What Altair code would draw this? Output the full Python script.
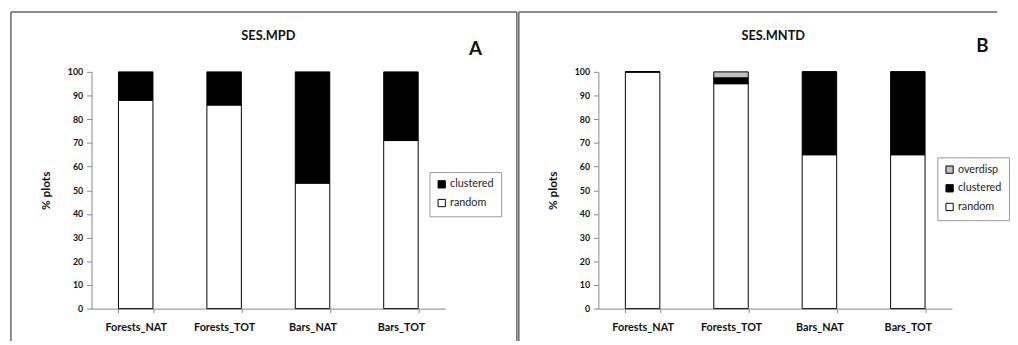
import altair as alt
import pandas as pd

categories = ["Forests_NAT", "Forests_TOT", "Bars_NAT", "Bars_TOT"]

# Panel A: SES.MPD
mpd_random = [88, 86, 53, 71]
mpd_clustered = [12, 14, 47, 29]

# Panel B: SES.MNTD
mntd_random = [100, 95, 65, 65]
mntd_clustered = [0, 2.5, 35, 35]
mntd_overdisp = [0, 2.5, 0, 0]

y_ticks = list(range(0, 101, 10))

FONT = "Lato"


def long_df(series):
    rows = []
    for order, (name, vals) in enumerate(series):
        for c, v in zip(categories, vals):
            rows.append({"cat": c, "status": name, "value": v, "ord": order})
    return pd.DataFrame(rows)


def panel(df, domain, rng, title, letter, legend_x, legend_y, frame,
          title_x, letter_x, letter_y, right_edge):
    bars = alt.Chart(df).mark_bar(stroke="black", strokeWidth=1).encode(
        x=alt.X("cat:N", sort=categories,
                scale=alt.Scale(paddingInner=0.61, paddingOuter=0.305),
                axis=alt.Axis(title=None, labelAngle=0, labelFontSize=11,
                              labelFontWeight="bold", labelPadding=9,
                              tickBand="extent", tickSize=4,
                              domainColor="#888888", tickColor="#888888",
                              labelColor="#111111")),
        y=alt.Y("value:Q", stack="zero",
                scale=alt.Scale(domain=[0, 100], nice=False),
                axis=alt.Axis(values=y_ticks, title="% plots", grid=False,
                              labelFontSize=9, labelFontWeight="bold",
                              labelPadding=4, tickSize=5,
                              titleFontSize=12, titleFontWeight="bold",
                              titlePadding=15, domainColor="#888888",
                              tickColor="#888888", labelColor="#111111",
                              titleColor="#111111")),
        fill=alt.Fill("status:N",
                      scale=alt.Scale(domain=domain, range=rng),
                      legend=alt.Legend(title=None, orient="none",
                                        legendX=legend_x, legendY=legend_y,
                                        symbolType="square", symbolSize=55,
                                        symbolStrokeColor="black",
                                        symbolStrokeWidth=1,
                                        labelFontSize=11, labelColor="#222222",
                                        labelOffset=3,
                                        strokeColor="#999999", fillColor="white",
                                        padding=7, rowPadding=6,
                                        symbolOffset=0)),
        order=alt.Order("ord:Q"),
    )
    one = pd.DataFrame({"t": [title], "l": [letter]})
    ttl = alt.Chart(one).mark_text(fontSize=13, fontWeight="bold",
                                   baseline="middle", color="#111111").encode(
        text="t:N", x=alt.value(title_x), y=alt.value(-36))
    let = alt.Chart(one).mark_text(fontSize=19, fontWeight="bold",
                                   baseline="middle", color="#111111").encode(
        text="l:N", x=alt.value(letter_x), y=alt.value(letter_y))
    fl, ft, fr, fb = frame
    rules = []
    rules.append(alt.Chart(one).mark_rule(color="#666666", strokeWidth=1.5).encode(
        x=alt.value(fl), x2=alt.value(fr), y=alt.value(ft)))
    rules.append(alt.Chart(one).mark_rule(color="#666666", strokeWidth=1.5).encode(
        x=alt.value(fl), y=alt.value(ft), y2=alt.value(fb)))
    if right_edge:
        rules.append(alt.Chart(one).mark_rule(color="#666666", strokeWidth=1.5).encode(
            x=alt.value(fr), y=alt.value(ft), y2=alt.value(fb)))
    return alt.layer(bars, ttl, let, *rules).properties(width=360, height=241)


df_a = long_df([("random", mpd_random), ("clustered", mpd_clustered)])
df_b = long_df([("random", mntd_random), ("clustered", mntd_clustered),
                ("overdisp", mntd_overdisp)])

left = panel(df_a, ["clustered", "random"], ["#000000", "#ffffff"],
             "SES.MPD", "A", 344, 102, (-82, -61, 433, 274),
             180, 391, -23, True)

right = panel(df_b, ["overdisp", "clustered", "random"],
              ["#c0c0c0", "#000000", "#ffffff"],
              "SES.MNTD", "B", 345, 87, (-81, -61, 406, 274),
              178, 391, -26, False)

chart = alt.hconcat(left, right, spacing=0).resolve_scale(
    fill="independent", x="independent", y="independent"
).properties(
    padding={"left": 2, "top": 0, "right": 0, "bottom": 0}
).configure(font=FONT).configure_view(strokeWidth=0)

chart.save("out.html", embed_options={"renderer": "svg", "actions": False})
